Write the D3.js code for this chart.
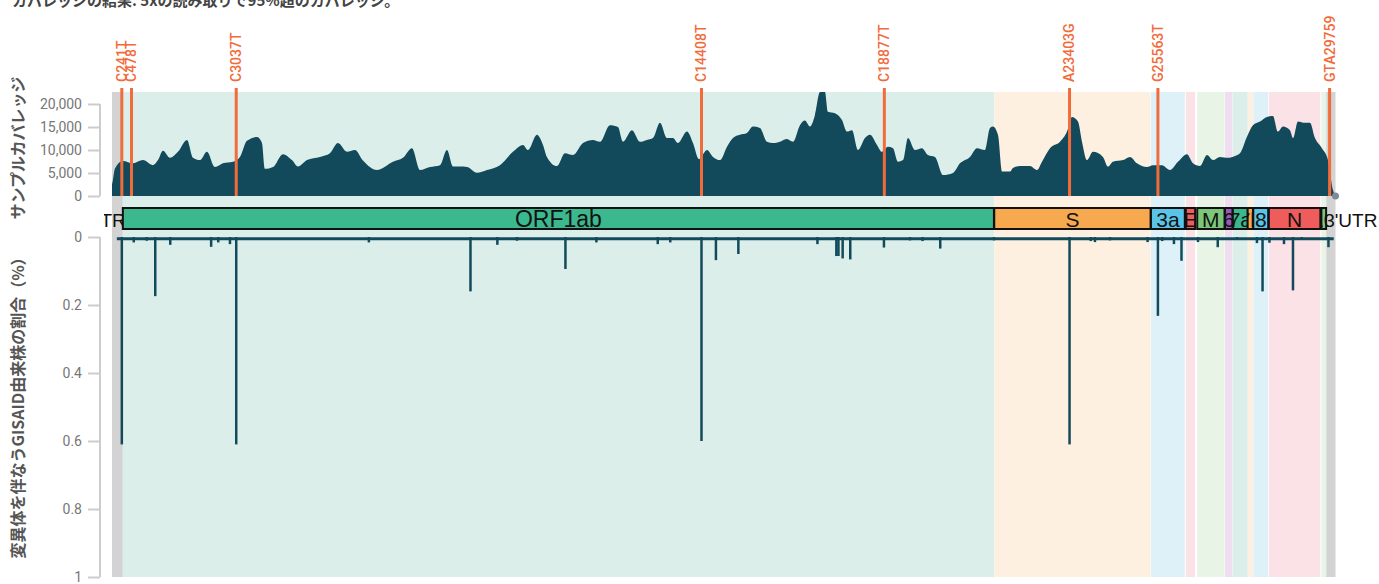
<!DOCTYPE html>
<html><head><meta charset="utf-8">
<script src="https://cdn.jsdelivr.net/npm/d3@7"></script>
<style>body{margin:0;background:#fff;} svg{display:block;}</style>
</head><body><svg id="chart" width="1379" height="584"></svg>
<script>
// ---------------- DATA ----------------
const genomeLength = 29903;

const titleText = "カバレッジの結果: 5xの読み取りで95%超のカバレッジ。";
const coverageAxisTitle = "サンプルカバレッジ";
const variantAxisTitle = "変異体を伴なうGISAID由来株の割合（%）";

// sample coverage (genome position, read depth)
const coveragePos = [1,24,73,269,513,758,1002,1124,1246,1418,1613,1833,1980,2151,2322,2517,2713,2957,3128,3299,3544,3666,3739,3935,4179,4399,4546,4766,5084,5328,5523,5743,5939,6134,6476,6868,7112,7332,7528,7772,8016,8187,8334,8505,8676,8921,9165,9483,9800,10045,10167,10387,10534,10631,10876,11071,11267,11511,11756,11927,12171,12367,12489,12709,12904,13075,13222,13393,13564,13711,13833,14053,14200,14346,14542,14688,14860,15031,15177,15348,15519,15666,15837,16008,16155,16326,16497,16644,16815,16937,17059,17181,17304,17426,17499,17670,17841,17963,18085,18232,18403,18525,18697,18819,18965,19088,19210,19332,19454,19625,19796,19943,20114,20310,20554,20725,20969,21141,21336,21459,21532,21654,21752,21947,22020,22192,22436,22607,22729,22925,23169,23340,23462,23609,23707,23829,23976,24220,24342,24464,24709,24880,25051,25295,25442,25662,25858,26053,26273,26420,26591,26762,26909,27080,27276,27446,27568,27739,27886,28057,28228,28375,28497,28619,28790,28864,28986,29157,29279,29401,29572,29719,29841,29903];
const coverageVal = [2500,3500,6000,7600,7100,7800,6700,7800,9850,8300,9600,12200,8300,7800,9600,6300,7100,7450,8500,12000,12800,11500,5900,6300,9100,7800,6400,7800,8500,9300,11500,9600,10000,7700,5650,7450,8300,10400,5650,6300,6700,10000,6400,6400,6300,5050,5650,6700,9600,11100,10000,13300,11100,8500,6500,9300,8900,11500,12200,11800,15400,15000,11800,14300,11800,12200,12600,15900,12600,12600,11500,14000,11500,8000,10000,8500,7800,10700,12600,13300,13700,15100,14800,11800,11500,11800,12400,11800,15400,16400,15100,17600,22600,22600,18300,18000,16500,14000,14300,10000,12600,13300,11100,9600,10700,10400,7450,7800,12600,10000,10400,8900,8500,4550,5000,7100,8500,10400,10000,14800,15100,13300,5300,5300,6100,6500,6500,5650,7450,10400,11800,14000,17200,16200,11800,7800,9600,8500,6400,7450,7800,8500,7100,6300,6700,6700,5650,7450,9100,7100,6500,8900,7800,8500,8300,8700,9300,12900,15400,16200,17200,17400,14000,15100,14300,12600,16200,15900,15900,12600,10400,7800,1300,0];

const coverageTicks = [0, 5000, 10000, 15000, 20000];
const variantTicks = [0, 0.2, 0.4, 0.6, 0.8, 1];

// highlighted sample mutations
const mutationLabels = ["C241T","C478T","C3037T","C14408T","C18877T","A23403G","G25563T","GTA29759"];
const mutationPos = [241, 478, 3037, 14408, 18877, 23403, 25563, 29759];

// genes
const geneNames = ["ORF1ab","S","3a","E","M","6","7a","7b","8","N","10"];
const geneStart = [266, 21563, 25393, 26245, 26523, 27202, 27394, 27756, 27894, 28274, 29558];
const geneEnd   = [21555, 25384, 26220, 26472, 27191, 27387, 27759, 27887, 28259, 29533, 29674];
const utrNames = ["5'UTR", "3'UTR"];
const utrStart = [1, 29675];
const utrEnd = [265, 29903];

// GISAID variant frequency (position, fraction of strains)
const variantPos = [241,533,850,1058,1425,2424,2598,2884,3037,6279,8762,9419,9898,11083,11839,13339,13645,14408,14761,15309,17242,17704,17755,17858,18044,18867,19503,19811,20243,21556,23403,23922,24024,24391,25310,25563,25669,25955,26139,26542,27025,27494,27983,28120,28289,28644,28864,29076,29731];
const variantFreq = [0.61,0.016,0.011,0.174,0.023,0.029,0.016,0.021,0.61,0.016,0.16,0.023,0.011,0.094,0.016,0.021,0.016,0.60,0.068,0.05,0.021,0.056,0.056,0.063,0.066,0.031,0.01,0.012,0.034,0.01,0.61,0.012,0.015,0.01,0.015,0.232,0.012,0.021,0.07,0.015,0.03,0.008,0.018,0.16,0.017,0.021,0.157,0.008,0.03];
const lowFreqStart = 120, lowFreqEnd = 29860, lowFreqLevel = 0.005;

// ---------------- STYLE ----------------
const geneFill = {"ORF1ab":"#3cb88f","S":"#f6a94f","3a":"#5ac4e6","E":"#ee5c5c","M":"#7cc67a","6":"#9b59b6","7a":"#3cb88f","7b":"#f6a94f","8":"#5ac4e6","N":"#ee5c5c","10":"#7cc67a"};
const geneBg = {"ORF1ab":"#dceeea","S":"#fdf0e0","3a":"#dff1f8","E":"#fae2e6","M":"#e8f4e6","6":"#efdeef","7a":"#dceeea","7b":"#fdf0e0","8":"#dff1f8","N":"#fae2e6","10":"#e8f4e6"};
const dark = "#134a5b", orange = "#f26b3b", axisGrey = "#cccccc", tickText = "#777";
const jp = "'Noto Sans CJK JP', 'Noto Sans', sans-serif";

// ---------------- CHART ----------------
const svg = d3.select("#chart");
const x = d3.scaleLinear().domain([1, genomeLength]).range([112, 1335.5]);
const yCov = d3.scaleLinear().domain([0, 20000]).range([196, 104]);
const yVar = d3.scaleLinear().domain([0, 1]).range([237, 577]);
const bandTop = 92, bandBottom = 577;

// title
svg.append("text").attr("x", 12).attr("y", 6)
  .attr("font-family", jp).attr("font-weight", "bold").attr("font-size", 15)
  .attr("fill", "#444").text(titleText);

// background bands
const bands = svg.append("g");
utrNames.forEach((n, i) => {
  bands.append("rect").attr("x", x(utrStart[i])).attr("y", bandTop)
    .attr("width", x(utrEnd[i]) - x(utrStart[i])).attr("height", bandBottom - bandTop)
    .attr("fill", "#d3d3d3");
});
geneNames.forEach((n, i) => {
  bands.append("rect").attr("x", x(geneStart[i])).attr("y", bandTop)
    .attr("width", x(geneEnd[i]) - x(geneStart[i])).attr("height", bandBottom - bandTop)
    .attr("fill", geneBg[n]);
});

// coverage area
const covData = coveragePos.map((p, i) => ({p, v: coverageVal[i]}));
const area = d3.area().x(d => x(d.p)).y0(yCov(0)).y1(d => yCov(d.v)).curve(d3.curveMonotoneX);
svg.append("path").datum(covData).attr("d", area).attr("fill", dark);
svg.append("circle").attr("cx", x(coveragePos[coveragePos.length-1])).attr("cy", yCov(0))
  .attr("r", 3.5).attr("fill", "#7d8b98");

// mutation markers
const mut = svg.append("g");
mutationPos.forEach((p, i) => {
  mut.append("line").attr("x1", x(p)).attr("x2", x(p)).attr("y1", 88).attr("y2", yCov(0))
    .attr("stroke", orange).attr("stroke-width", 3);
  mut.append("text").attr("transform", `translate(${x(p)},82) rotate(-90)`)
    .attr("dy", "0.35em").attr("font-family", "Roboto, sans-serif").attr("font-weight", 500)
    .attr("font-size", 14).attr("fill", orange).text(mutationLabels[i]);
});

// gene track
const geneY = 208, geneH = 21;
const defs = svg.append("defs");
defs.append("clipPath").attr("id", "leftclip").append("rect")
  .attr("x", 104).attr("y", 190).attr("width", 1275).attr("height", 50);
const genes = svg.append("g");
// UTR labels
genes.append("text").attr("x", x(utrEnd[0]) + 3).attr("y", geneY + 19)
  .attr("text-anchor", "end").attr("clip-path", "url(#leftclip)")
  .attr("font-family", "'Liberation Sans', Arial, sans-serif").attr("font-size", 19)
  .attr("fill", "#111").text(utrNames[0]);
genes.append("text").attr("x", x(utrStart[1]) - 2).attr("y", geneY + 19)
  .attr("font-family", "'Liberation Sans', Arial, sans-serif").attr("font-size", 19)
  .attr("fill", "#111").text(utrNames[1]);
geneNames.forEach((n, i) => {
  const x0 = x(geneStart[i]), x1 = x(geneEnd[i]);
  defs.append("clipPath").attr("id", "gclip" + i).append("rect")
    .attr("x", x0).attr("y", geneY).attr("width", x1 - x0).attr("height", geneH);
  genes.append("rect").attr("x", x0).attr("y", geneY).attr("width", x1 - x0).attr("height", geneH)
    .attr("fill", geneFill[n]).attr("stroke", "#111").attr("stroke-width", 2);
  genes.append("text").attr("x", (x0 + x1) / 2).attr("y", geneY + 19)
    .attr("text-anchor", "middle").attr("clip-path", `url(#gclip${i})`)
    .attr("font-family", "'Liberation Sans', Arial, sans-serif").attr("font-size", i === 0 ? 23 : 21)
    .attr("fill", "#111").text(n);
});

// variant frequency sticks
const vg = svg.append("g");
vg.append("line").attr("x1", x(lowFreqStart)).attr("x2", x(lowFreqEnd))
  .attr("y1", yVar(lowFreqLevel)).attr("y2", yVar(lowFreqLevel))
  .attr("stroke", dark).attr("stroke-width", 3);
variantPos.forEach((p, i) => {
  vg.append("line").attr("x1", x(p)).attr("x2", x(p)).attr("y1", yVar(0)).attr("y2", yVar(variantFreq[i]))
    .attr("stroke", dark).attr("stroke-width", 2.5);
});

// axes
function styleAxis(g, y0, y1) {
  g.select(".domain").remove();
  g.selectAll(".tick line").attr("stroke", axisGrey).attr("stroke-width", 2);
  g.selectAll(".tick text").attr("fill", tickText).attr("font-size", 14)
    .attr("font-family", "Roboto, sans-serif");
  g.append("line").attr("x1", 0).attr("x2", 0).attr("y1", y0).attr("y2", y1)
    .attr("stroke", axisGrey).attr("stroke-width", 2);
}
const ax1 = svg.append("g").attr("transform", "translate(100,0)")
  .call(d3.axisLeft(yCov).tickValues(coverageTicks).tickFormat(d3.format(",")).tickSize(12).tickPadding(6));
styleAxis(ax1, yCov(0), yCov(20000));
const ax2 = svg.append("g").attr("transform", "translate(100,0)")
  .call(d3.axisLeft(yVar).tickValues(variantTicks).tickFormat(d3.format("")).tickSize(12).tickPadding(6));
styleAxis(ax2, yVar(0), yVar(1));

// axis titles
svg.append("text").attr("transform", "translate(18,148) rotate(-90)")
  .attr("text-anchor", "middle").attr("dy", "0.35em")
  .attr("font-family", jp).attr("font-weight", "bold").attr("font-size", 16)
  .attr("fill", "#555").text(coverageAxisTitle);
svg.append("text").attr("transform", "translate(18,404) rotate(-90)")
  .attr("text-anchor", "middle").attr("dy", "0.35em")
  .attr("font-family", jp).attr("font-weight", "bold").attr("font-size", 16)
  .attr("fill", "#555").text(variantAxisTitle);
</script>
</body></html>
